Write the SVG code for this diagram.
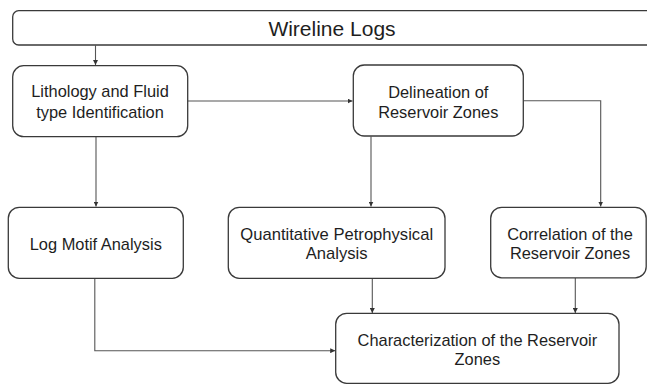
<svg xmlns="http://www.w3.org/2000/svg" width="647" height="384" viewBox="0 0 647 384">
<defs>
<style>
.box{fill:#fff;stroke:#3a3a3a;stroke-width:1.3}
.t{font-family:"Liberation Sans",Arial,sans-serif;font-size:16.4px;fill:#1e1e1e;text-anchor:middle}
.c{fill:none;stroke:#555;stroke-width:1.1}
</style>
<marker id="ah" viewBox="0 0 6 6" refX="6" refY="3" markerWidth="5" markerHeight="5" orient="auto" markerUnits="userSpaceOnUse">
<path d="M0,0 L6,3 L0,6 Z" fill="#333"/>
</marker>
</defs>
<rect width="647" height="384" fill="#fff"/>
<g id="connectors">
<path class="c" d="M95.5,45.5 V65" marker-end="url(#ah)"/>
<path class="c" d="M188,101 H352.5" marker-end="url(#ah)"/>
<path class="c" d="M96,137 V206.5" marker-end="url(#ah)"/>
<path class="c" d="M371,136.5 V206.5" marker-end="url(#ah)"/>
<path class="c" d="M523.5,100.7 H600.7 V206.5" marker-end="url(#ah)"/>
<path class="c" d="M372.3,278.5 V313" marker-end="url(#ah)"/>
<path class="c" d="M575.3,278 V313" marker-end="url(#ah)"/>
<path class="c" d="M94.8,278.5 V350.7 H335.2" marker-end="url(#ah)"/>
</g>
<g id="wireline">
<rect class="box" x="12.7" y="10.7" width="640" height="34.3" rx="6"/>
<text class="t" x="332" y="36" style="font-size:21px">Wireline Logs</text>
</g>
<g id="lithology">
<rect class="box" x="12.7" y="65.7" width="175" height="71" rx="11"/>
<text class="t" x="100" y="97">Lithology and Fluid</text>
<text class="t" x="100" y="118">type Identification</text>
</g>
<g id="delineation">
<rect class="box" x="353.3" y="65" width="170" height="71" rx="11"/>
<text class="t" x="438.3" y="97.7">Delineation of</text>
<text class="t" x="438.3" y="118.3">Reservoir Zones</text>
</g>
<g id="logmotif">
<rect class="box" x="8.3" y="207.3" width="175" height="71" rx="11"/>
<text class="t" x="95.8" y="250">Log Motif Analysis</text>
</g>
<g id="quantitative">
<rect class="box" x="228.3" y="207.3" width="216.7" height="71" rx="11"/>
<text class="t" x="336.7" y="240" style="font-size:16.6px">Quantitative Petrophysical</text>
<text class="t" x="336.7" y="259" style="font-size:16.6px">Analysis</text>
</g>
<g id="correlation">
<rect class="box" x="490.7" y="207.3" width="155.5" height="70.5" rx="11"/>
<text class="t" x="570" y="240">Correlation of the</text>
<text class="t" x="570" y="259">Reservoir Zones</text>
</g>
<g id="characterization">
<rect class="box" x="335.7" y="313.3" width="283.3" height="70" rx="11"/>
<text class="t" x="477.4" y="345.7">Characterization of the Reservoir</text>
<text class="t" x="477.4" y="365">Zones</text>
</g>
</svg>
